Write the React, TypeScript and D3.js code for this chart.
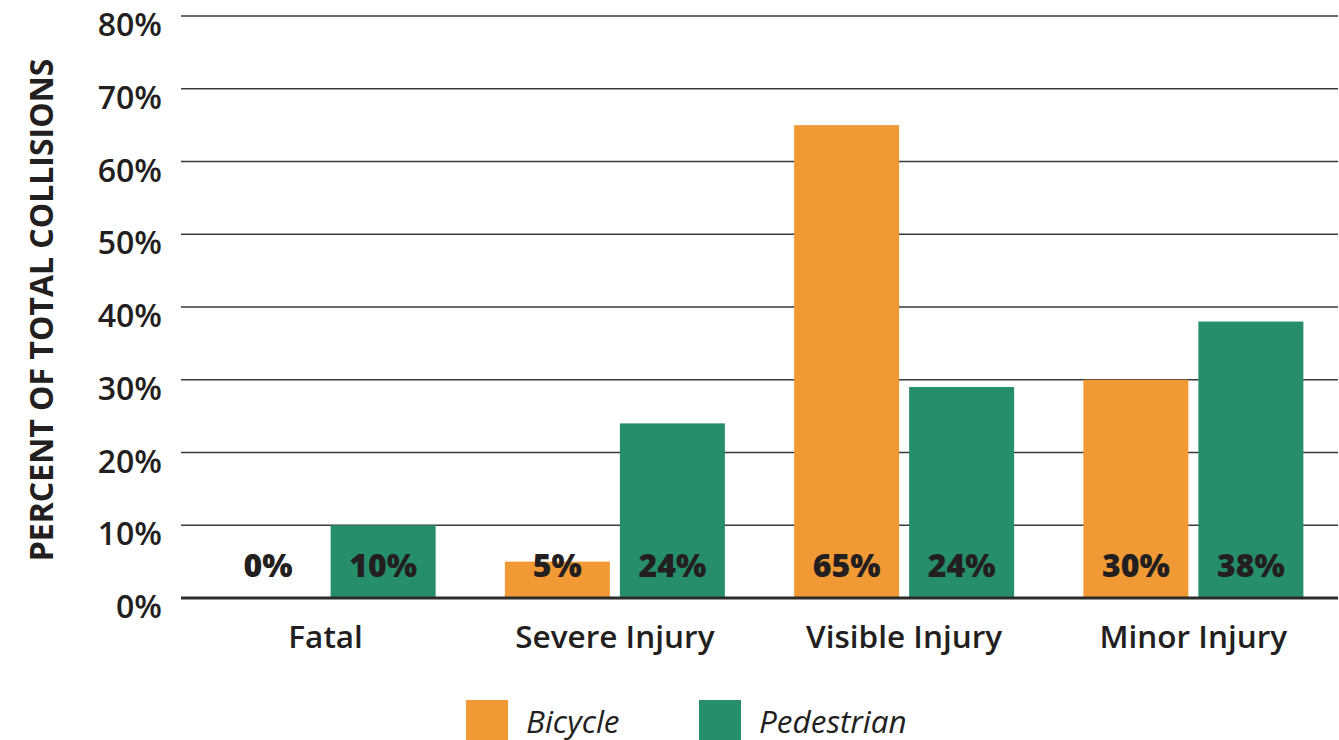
import React from "react";
import * as d3 from "d3";

const categories = ["Fatal", "Severe Injury", "Visible Injury", "Minor Injury"];
const seriesNames = ["Bicycle", "Pedestrian"];
const bicycleValues = [0, 5, 65, 30];
const pedestrianValues = [10, 24, 29, 38];
const bicycleLabels = ["0%", "5%", "65%", "30%"];
const pedestrianLabels = ["10%", "24%", "24%", "38%"];
const yTicks = [0, 10, 20, 30, 40, 50, 60, 70, 80];
const colors = ["#f19935", "#268e6a"];

const W = 1339;
const H = 740;
const FONT = "'Open Sans', 'Noto Sans', sans-serif";
const TEXT = "#231f20";

export default function App() {
  const x = d3.scaleBand<string>().domain(categories).range([181, 1338]).padding(0);
  const y = d3.scaleLinear().domain([0, 80]).range([598, 16]);
  const barW = 105;
  const gap = 10;
  const series = [bicycleValues, pedestrianValues];
  const labels = [bicycleLabels, pedestrianLabels];

  return (
    <svg
      width={W}
      height={H}
      style={{ position: "absolute", left: 0, top: 0, background: "#fff" }}
      fontFamily={FONT}
    >
      {yTicks.map((t) =>
        t === 0 ? null : (
          <line key={"g" + t} x1={181} x2={1338} y1={y(t)} y2={y(t)} stroke="#3a3a3a" strokeWidth={1.6} />
        )
      )}
      {yTicks.map((t) => (
        <text
          key={"t" + t}
          x={162}
          y={y(t) + 20}
          textAnchor="end"
          fontSize={32}
          fontWeight={600}
          fill={TEXT}
        >
          {d3.format(".0f")(t) + "%"}
        </text>
      ))}
      <text
        transform={`translate(53,310) rotate(-90)`}
        textAnchor="middle"
        fontSize={32}
        fontWeight={700}
        fill={TEXT}
      >
        PERCENT OF TOTAL COLLISIONS
      </text>
      {categories.map((c, i) => {
        const cx = (x(c) as number) + x.bandwidth() / 2;
        return (
          <g key={c}>
            {series.map((vals, s) => {
              const bx = s === 0 ? cx - gap / 2 - barW : cx + gap / 2;
              return (
                <g key={s}>
                  <rect
                    x={bx}
                    y={y(vals[i])}
                    width={barW}
                    height={y(0) - y(vals[i])}
                    fill={colors[s]}
                  />
                  <text
                    x={bx + barW / 2}
                    y={577}
                    textAnchor="middle"
                    fontSize={32}
                    fontWeight={800}
                    fill={TEXT}
                  >
                    {labels[s][i]}
                  </text>
                </g>
              );
            })}
            <text x={cx} y={648} textAnchor="middle" fontSize={31.5} fontWeight={600} fill={TEXT}>
              {c}
            </text>
          </g>
        );
      })}
      <line x1={181} x2={1338} y1={y(0)} y2={y(0)} stroke="#2b2b2b" strokeWidth={3} />
      {seriesNames.map((n, s) => {
        const lx = s === 0 ? 466 : 699;
        return (
          <g key={n}>
            <rect x={lx} y={700} width={42} height={42} fill={colors[s]} />
            <text x={lx + 60} y={733} fontSize={31.5} fontStyle="italic" fill={TEXT}>
              {n}
            </text>
          </g>
        );
      })}
    </svg>
  );
}
